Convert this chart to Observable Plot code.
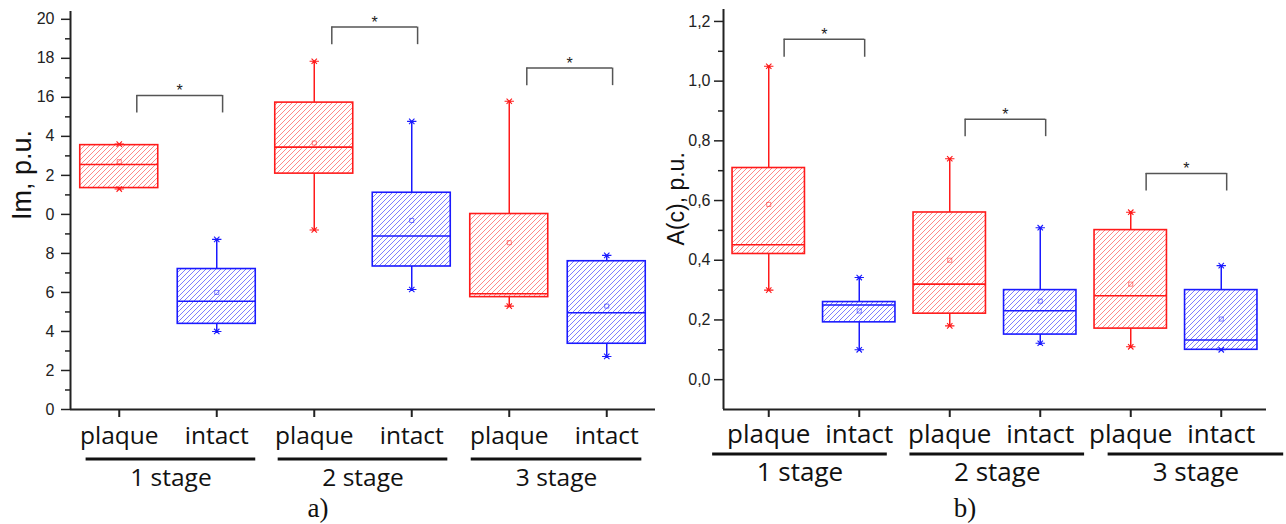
<!DOCTYPE html>
<html><head><meta charset="utf-8">
<script src="https://cdn.jsdelivr.net/npm/d3@7"></script>
<script src="https://cdn.jsdelivr.net/npm/@observablehq/plot@0.6"></script>
<style>
html,body{margin:0;padding:0;background:#fff;}
#wrap{position:relative;width:1286px;height:524px;overflow:hidden;background:#fff;}
#wrap svg.panel{position:absolute;top:0;}
</style></head><body>
<svg width="0" height="0" style="position:absolute">
  <defs>
    <pattern id="hatchRed" patternUnits="userSpaceOnUse" width="5" height="5">
      <path d="M-1,1 l2,-2 M0,5 l5,-5 M4,6 l2,-2" stroke="#ff7a7a" stroke-width="0.9"/>
    </pattern>
    <pattern id="hatchBlue" patternUnits="userSpaceOnUse" width="5" height="5">
      <path d="M-1,1 l2,-2 M0,5 l5,-5 M4,6 l2,-2" stroke="#6f6fff" stroke-width="0.9"/>
    </pattern>
  </defs>
</svg>
<div id="wrap"></div>
<script>
// ---- data ----
const categories = ["plaque", "intact", "plaque", "intact", "plaque", "intact"];
const stages = ["1 stage", "2 stage", "3 stage"];

// panel a) Im, p.u.
const imMin    = [11.3, 4.0, 9.2, 6.15, 5.3, 2.72];
const imQ1     = [11.35, 4.39, 12.09, 7.33, 5.76, 3.37];
const imMedian = [12.56, 5.55, 13.45, 8.89, 5.93, 4.96];
const imQ3     = [13.55, 7.2, 15.73, 11.11, 10.02, 7.6];
const imMax    = [13.6, 8.72, 17.85, 14.77, 15.8, 7.9];
const imMean   = [12.7, 6.0, 13.66, 9.69, 8.55, 5.3];
const imSigTop = [16.1, 19.6, 17.5];
const imSigLeg = [15.2, 18.7, 16.6];
const imTicks = [0, 2, 4, 6, 8, 10, 12, 14, 16, 18, 20];
const imTickLabels = ["0", "2", "4", "6", "8", "0", "2", "4", "16", "18", "20"];
const imMinorTicks = [1, 3, 5, 7, 9, 11, 13, 15, 17, 19];

// panel b) A(c), p.u.
const acMin    = [0.30, 0.10, 0.18, 0.122, 0.11, 0.10];
const acQ1     = [0.421, 0.192, 0.221, 0.151, 0.171, 0.10];
const acMedian = [0.452, 0.25, 0.32, 0.231, 0.281, 0.133];
const acQ3     = [0.709, 0.26, 0.56, 0.30, 0.501, 0.30];
const acMax    = [1.05, 0.342, 0.74, 0.509, 0.561, 0.382];
const acMean   = [0.587, 0.23, 0.40, 0.263, 0.32, 0.203];
const acSigTop = [1.14, 0.872, 0.691];
const acSigLeg = [1.08, 0.814, 0.632];
const acTicks = [0, 0.2, 0.4, 0.6, 0.8, 1.0, 1.2];
const acTickLabels = ["0,0", "0,2", "0,4", "0,6", "0,8", "1,0", "1,2"];
const acMinorTicks = [0.1, 0.3, 0.5, 0.7, 0.9, 1.1];

// ---- styles ----
const colors = {plaque: "#ff1a1a", intact: "#1a1aff"};
const hatch = {plaque: "url(#hatchRed)", intact: "url(#hatchBlue)"};
const capSymbol = {
  draw(ctx, size) {
    const r = Math.sqrt(size / Math.PI);
    ctx.moveTo(-r * 1.3, 0); ctx.lineTo(r * 1.3, 0);
    const s = r * 0.75;
    ctx.moveTo(-s, -s); ctx.lineTo(s, s);
    ctx.moveTo(-s, s); ctx.lineTo(s, -s);
  }
};

function buildRows(mn, q1, med, q3, mx, mean) {
  return categories.map((g, i) => ({i, group: g, min: mn[i], q1: q1[i], median: med[i], q3: q3[i], max: mx[i], mean: mean[i]}));
}

function panel(cfg) {
  const rows = buildRows(...cfg.values);
  const half = 0.4;
  const brackets = stages.map((s, k) => ({x1: 2 * k + cfg.brOff[0], x2: 2 * k + 1 + cfg.brOff[1], top: cfg.sigTop[k], leg: cfg.sigLeg[k]}));
  const stageRows = stages.map((s, k) => ({stage: s, u1: cfg.under[k][0], u2: cfg.under[k][1], c: (cfg.under[k][0] + cfg.under[k][1]) / 2}));
  const y0 = cfg.yDomain[0];
  const marks = [];
  for (const g of ["plaque", "intact"]) {
    const r = rows.filter(d => d.group === g);
    const c = colors[g];
    marks.push(
      Plot.ruleX(r, {x: "i", y1: "q3", y2: "max", stroke: c, strokeWidth: 1.5}),
      Plot.ruleX(r, {x: "i", y1: "min", y2: "q1", stroke: c, strokeWidth: 1.5}),
      Plot.rect(r, {x1: d => d.i - half, x2: d => d.i + half, y1: "q1", y2: "q3", fill: hatch[g], stroke: c, strokeWidth: 1.6}),
      Plot.ruleY(r, {y: "median", x1: d => d.i - half, x2: d => d.i + half, stroke: c, strokeWidth: 1.6}),
      Plot.dot(r, {x: "i", y: "max", symbol: capSymbol, r: 3.6, stroke: c, fill: "none", strokeWidth: 1.1}),
      Plot.dot(r, {x: "i", y: "min", symbol: capSymbol, r: 3.6, stroke: c, fill: "none", strokeWidth: 1.1}),
      Plot.dot(r, {x: "i", y: "mean", symbol: "square", r: 2.3, stroke: c, fill: "none", strokeOpacity: 0.55, strokeWidth: 1})
    );
  }
  marks.push(
    Plot.ruleY(brackets, {y: "top", x1: "x1", x2: "x2", stroke: "#555", strokeWidth: 1.5}),
    Plot.ruleX(brackets, {x: "x1", y1: "leg", y2: "top", stroke: "#555", strokeWidth: 1.5}),
    Plot.ruleX(brackets, {x: "x2", y1: "leg", y2: "top", stroke: "#555", strokeWidth: 1.5}),
    Plot.text(brackets, {x: d => (d.x1 + d.x2) / 2, y: "top", text: () => "*", lineAnchor: "bottom", dy: 1, fontSize: 16, fill: "#222"}),
    Plot.ruleX([cfg.xDomain[0]], {stroke: "#222", strokeWidth: 2}),
    Plot.ruleY([y0], {stroke: "#222", strokeWidth: 2}),
    Plot.axisY({ticks: cfg.ticks, tickFormat: d => cfg.tickLabels[cfg.ticks.indexOf(d)], tickSize: cfg.tickSize, tickPadding: cfg.tickPadding, fontSize: cfg.tickFont, label: null, strokeWidth: 1.5, stroke: "#222", fill: "#222"}),
    Plot.axisY({ticks: cfg.minor, tickFormat: () => "", tickSize: 5, label: null, strokeWidth: 1.5, stroke: "#222"}),
    Plot.axisX({ticks: [0, 1, 2, 3, 4, 5], tickFormat: () => "", tickSize: 8, label: null, strokeWidth: 2, stroke: "#222"}),
    Plot.text(rows, {x: "i", text: "group", frameAnchor: "bottom", lineAnchor: "bottom", dy: cfg.catDy, fontSize: cfg.catFont, fontFamily: "Open Sans", fill: "#111"}),
    Plot.ruleY(stageRows, {y: () => y0, x1: "u1", x2: "u2", dy: cfg.underDy, stroke: "#111", strokeWidth: 3}),
    Plot.text(stageRows, {x: "c", text: "stage", frameAnchor: "bottom", lineAnchor: "bottom", dy: cfg.stageDy, fontSize: cfg.catFont, fontFamily: "Open Sans", fill: "#111"}),
    Plot.text([cfg.yLabel], {frameAnchor: "left", rotate: -90, dx: cfg.yLabelDx, dy: cfg.yLabelDy, fontSize: cfg.yLabelFont, fill: "#111"}),
    Plot.text([cfg.caption], {frameAnchor: "bottom", lineAnchor: "bottom", dx: cfg.capDx, dy: cfg.capDy, fontSize: 27, fontFamily: "Liberation Serif", fill: "#111"})
  );
  const svg = Plot.plot({
    width: cfg.width, height: 524,
    marginLeft: cfg.marginLeft, marginRight: cfg.marginRight, marginTop: cfg.marginTop, marginBottom: cfg.marginBottom,
    x: {domain: cfg.xDomain},
    y: {domain: cfg.yDomain},
    style: {fontFamily: "Liberation Sans, Arial, sans-serif", background: "transparent", overflow: "visible", color: "#222"},
    marks
  });
  svg.classList.add("panel");
  svg.style.left = cfg.left + "px";
  return svg;
}

const wrap = document.getElementById("wrap");
wrap.appendChild(panel({
  values: [imMin, imQ1, imMedian, imQ3, imMax, imMean],
  sigTop: imSigTop, sigLeg: imSigLeg, brOff: [0.18, 0.06],
  under: [[-0.34, 1.40], [1.63, 3.37], [3.61, 5.36]],
  left: 0, width: 660, marginLeft: 70, marginRight: 5, marginTop: 11, marginBottom: 115,
  xDomain: [-0.5, 5.5], yDomain: [0, 20.4],
  ticks: imTicks, tickLabels: imTickLabels, minor: imMinorTicks, tickSize: 9, tickPadding: 7, tickFont: 16,
  catDy: 34, catFont: 24.5, underDy: 49.5, stageDy: 76,
  yLabel: "Im, p.u.", yLabelDx: -48, yLabelDy: 9.5, yLabelFont: 27,
  caption: "a)", capDx: -45, capDy: 107.5
}));
wrap.appendChild(panel({
  values: [acMin, acQ1, acMedian, acQ3, acMax, acMean],
  sigTop: acSigTop, sigLeg: acSigLeg, brOff: [0.17, 0.06],
  under: [[-0.62, 1.31], [1.56, 3.49], [3.75, 5.69]],
  left: 640, width: 646, marginLeft: 83, marginRight: 20, marginTop: 9, marginBottom: 115,
  xDomain: [-0.5, 5.5], yDomain: [-0.1, 1.24],
  ticks: acTicks, tickLabels: acTickLabels, minor: acMinorTicks, tickSize: 9, tickPadding: 4, tickFont: 16,
  catDy: 33, catFont: 26, underDy: 44.5, stageDy: 71,
  yLabel: "A(c), p.u.", yLabelDx: -47, yLabelDy: 36, yLabelFont: 23,
  caption: "b)", capDx: -30, capDy: 107
}));
</script>
</body></html>
